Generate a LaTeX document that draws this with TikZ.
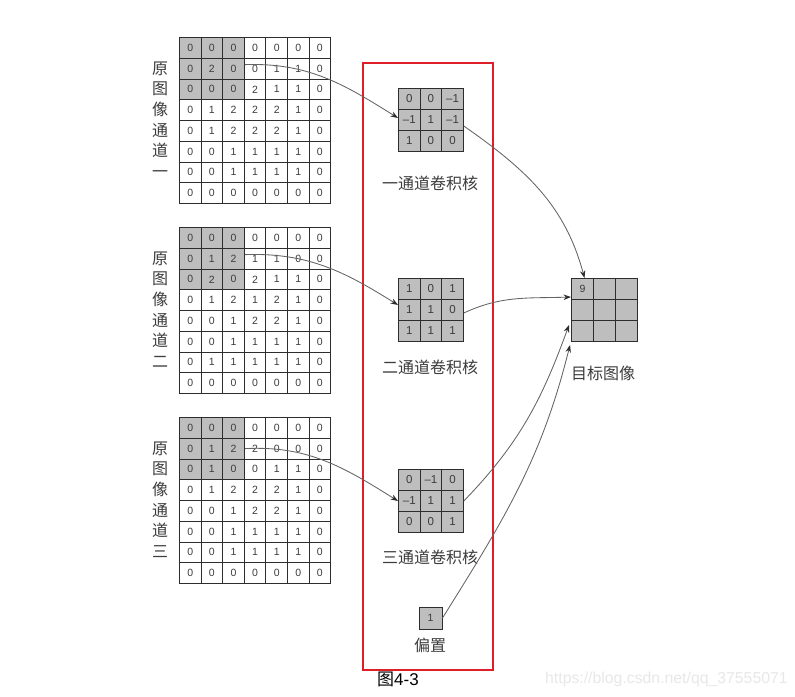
\documentclass[tikz,border=0pt]{standalone}
\usepackage{fontspec}
\setmainfont{Liberation Sans}
\newfontfamily\cjk{Noto Sans CJK SC}
\usetikzlibrary{arrows.meta}
\definecolor{cellgray}{RGB}{190,190,190}
\definecolor{gridline}{RGB}{45,45,45}
\definecolor{numcol}{RGB}{60,60,60}
\definecolor{textcol}{RGB}{60,60,60}
\definecolor{arrowcol}{RGB}{100,100,100}
\definecolor{framered}{RGB}{222,30,40}
\definecolor{wm}{RGB}{232,232,232}
% #1 name, #2 x, #3 y, #4 cell style, #5 shaded block size, #6 rows
\newcommand\cellgrid[6]{%
  \foreach \rowdata [count=\r] in {#6} {
    \foreach \v [count=\c] in \rowdata {
      \ifnum\r>#5 \def\fc{white}\else\ifnum\c>#5 \def\fc{white}\else\def\fc{cellgray}\fi\fi
      \node[#4, fill=\fc] (#1-\r-\c) at ({#2+(\c-1)*\cw},{#3+(\r-1)*\ch}) {\v};
    }
  }
}
\begin{document}
\begin{tikzpicture}[x=1pt,y=-1pt,
  cellbase/.style={draw=gridline, line width=1pt, inner sep=0pt, anchor=north west, text=numcol},
  incell/.style={cellbase, minimum width=21.6pt, minimum height=20.75pt, font=\fontsize{10.5}{10.5}\selectfont},
  kcell/.style={cellbase, minimum width=21.6pt, minimum height=21pt, font=\fontsize{11.5}{11.5}\selectfont},
  tcell/.style={cellbase, minimum width=22pt, minimum height=21pt, font=\fontsize{10.5}{10.5}\selectfont},
  biasbox/.style={draw=gridline, line width=1pt, fill=cellgray, minimum width=23pt, minimum height=22pt, inner sep=0pt, text=numcol, font=\fontsize{10.5}{10.5}\selectfont},
  vlabel/.style={font=\cjk\fontsize{16}{20.6}\selectfont, align=center, text=textcol, inner sep=0pt},
  klabel/.style={font=\cjk\fontsize{16}{16}\selectfont, text=textcol, inner sep=0pt},
  conn/.style={draw=arrowcol, line width=0.85pt, -{Stealth[length=7.5pt,width=5.5pt,color=gridline]}},
  frame/.style={draw=framered, line width=2.4pt}
]
\fill[white] (0,0) rectangle (795,696);
\path[use as bounding box] (0,0) rectangle (795,696);

% input channels
\def\cw{21.6}\def\ch{20.75}
\cellgrid{ga}{179}{37}{incell}{3}{{0,0,0,0,0,0,0},{0,2,0,0,1,1,0},{0,0,0,2,1,1,0},{0,1,2,2,2,1,0},{0,1,2,2,2,1,0},{0,0,1,1,1,1,0},{0,0,1,1,1,1,0},{0,0,0,0,0,0,0}}
\cellgrid{gb}{179}{227}{incell}{3}{{0,0,0,0,0,0,0},{0,1,2,1,1,0,0},{0,2,0,2,1,1,0},{0,1,2,1,2,1,0},{0,0,1,2,2,1,0},{0,0,1,1,1,1,0},{0,1,1,1,1,1,0},{0,0,0,0,0,0,0}}
\cellgrid{gc}{179}{417}{incell}{3}{{0,0,0,0,0,0,0},{0,1,2,2,0,0,0},{0,1,0,0,1,1,0},{0,1,2,2,2,1,0},{0,0,1,2,2,1,0},{0,0,1,1,1,1,0},{0,0,1,1,1,1,0},{0,0,0,0,0,0,0}}

\node[vlabel] (la) at (160,119.5) {原\\图\\像\\通\\道\\一};
\node[vlabel] (lb) at (160,309.5) {原\\图\\像\\通\\道\\二};
\node[vlabel] (lc) at (160,499.5) {原\\图\\像\\通\\道\\三};

% kernels
\def\cw{21.6}\def\ch{21}
\cellgrid{ka}{398}{88}{kcell}{9}{{0,0,\textendash1},{\textendash1,1,\textendash1},{1,0,0}}
\cellgrid{kb}{398}{278}{kcell}{9}{{1,0,1},{1,1,0},{1,1,1}}
\cellgrid{kc}{398}{469}{kcell}{9}{{0,\textendash1,0},{\textendash1,1,1},{0,0,1}}

\node[klabel] (kla) at (430,183) {一通道卷积核};
\node[klabel] (klb) at (430,367) {二通道卷积核};
\node[klabel] (klc) at (430,557) {三通道卷积核};

% target
\def\cw{22}\def\ch{21}
\cellgrid{t}{571}{278}{tcell}{9}{{9,{},{}},{{},{},{}},{{},{},{}}}
\node[klabel] (tl) at (603,373) {目标图像};

% bias
\node[biasbox] (b) at (430.5,618) {1};
\node[klabel] (bl) at (430,645) {偏置};

% frame
\draw[frame] (363,63) rectangle (493,670);

% connectors
\draw[conn] ([yshift=4pt]ga-2-3.east) to[out=2,in=148] ([yshift=2pt]ka-2-1.west);
\draw[conn] ([yshift=4pt]gb-2-3.east) to[out=2,in=148] ([yshift=5pt]kb-2-1.west);
\draw[conn] (gc-2-3.east) to[out=3,in=148] (kc-2-1.west);
\draw[conn] ([yshift=-6pt]ka-2-3.east) to[out=-35,in=105] ([xshift=2pt]t-1-1.north);
\draw[conn] ([yshift=-3pt]kb-2-3.east) to[out=25,in=182] ([yshift=3pt]t-1-1.south west);
\draw[conn] (kc-2-3.east) to[out=46,in=-110] ([xshift=-2pt,yshift=-4pt]t-2-1.south west);
\draw[conn] (b.east) to[out=58,in=-104] ([xshift=-1pt,yshift=-3pt]t-3-1.south west);

% caption and watermark
\node[inner sep=0pt, text=black, font=\fontsize{17}{17}\selectfont] (cap) at (398,679) {{\cjk 图}4-3};
\node[anchor=west, inner sep=0pt, text=wm, font=\fontsize{15.8}{15.8}\selectfont] (wmark) at (545,679) {https://blog.csdn.net/qq\_37555071};
\end{tikzpicture}
\end{document}
